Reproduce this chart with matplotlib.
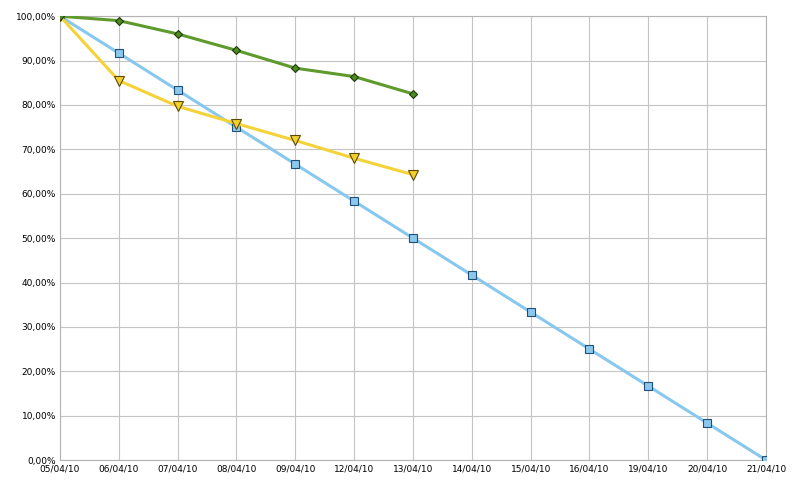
import matplotlib
matplotlib.use("Agg")
import matplotlib.pyplot as plt

dates = ["05/04/10","06/04/10","07/04/10","08/04/10","09/04/10","12/04/10","13/04/10",
         "14/04/10","15/04/10","16/04/10","19/04/10","20/04/10","21/04/10"]
ideal = [100, 91.67, 83.33, 75.0, 66.67, 58.33, 50.0, 41.67, 33.33, 25.0, 16.67, 8.33, 0.0]
green = [100, 99.0, 96.0, 92.3, 88.3, 86.4, 82.5]
yellow = [100, 85.5, 79.7, 75.8, 72.0, 68.0, 64.3]

fig = plt.figure(figsize=(8, 4.91), dpi=100)
ax = fig.add_axes([0.075, 0.063, 0.8825, 0.904])
x = list(range(len(dates)))
ax.plot(x, ideal, color="#87c8ee", lw=2.2, marker="s", ms=6, mfc="#8cc7ec", mec="#1f4f7a", mew=0.8, zorder=3)
ax.plot(x[:len(yellow)], yellow, color="#f5d338", lw=2.2, marker="v", ms=6.5, mfc="#f3cf2e", mec="#5a4a00", mew=0.8, zorder=3)
ax.plot(x[:len(green)], green, color="#5e9a2c", lw=2.2, marker="D", ms=4.5, mfc="#4e8a22", mec="#1e3a08", mew=0.8, zorder=4)

ax.set_xlim(0, len(dates) - 1)
ax.set_ylim(0, 100)
ax.set_xticks(x)
ax.set_xticklabels(dates, fontsize=6.5)
ax.set_yticks(range(0, 101, 10))
ax.set_yticklabels([f"{v},00%" for v in range(0, 101, 10)], fontsize=6.5)
ax.grid(True, color="#c4c4c4", lw=0.8)
ax.tick_params(length=0, pad=3)
for s in ax.spines.values():
    s.set_color("#b3b3b3")
ax.set_axisbelow(True)
fig.savefig("out.png", dpi=100)
